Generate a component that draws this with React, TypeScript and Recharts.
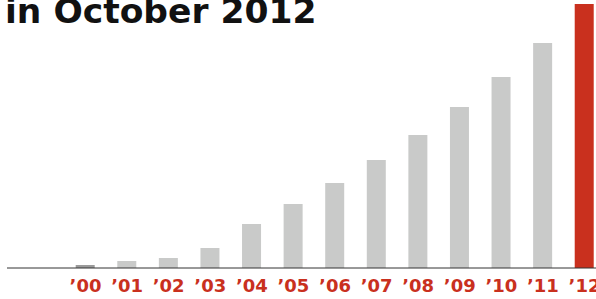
import React from 'react'
import { BarChart, Bar, XAxis, YAxis, Cell } from 'recharts'

const years = ['’00', '’01', '’02', '’03', '’04', '’05', '’06', '’07', '’08', '’09', '’10', '’11', '’12']
const values = [3, 7, 10, 20, 44, 64, 85, 108, 133, 161, 191, 225, 264]

const GRAY = '#c9cac9'
const FIRST = '#9a9a9a'
const RED = '#c9301e'

const data = years.map((year, i) => ({ year, value: values[i] }))

export default function App() {
  return (
    <div
      style={{
        position: 'absolute',
        left: 0,
        top: 0,
        width: 596,
        height: 299,
        overflow: 'hidden',
        background: '#fff',
      }}
    >
      <div
        style={{
          position: 'absolute',
          left: 5,
          top: -9,
          fontFamily: '"DejaVu Sans", sans-serif',
          fontWeight: 'bold',
          fontSize: 34.5,
          color: '#111',
          whiteSpace: 'nowrap',
          lineHeight: '40px',
        }}
      >
        in October 2012
      </div>
      <BarChart
        width={620}
        height={299}
        data={data}
        margin={{ top: 4, right: 0, bottom: 0, left: 7 }}
      >
        <YAxis hide domain={[0, 264]} />
        <XAxis
          dataKey="year"
          height={31}
          tickLine={false}
          tickMargin={5}
          interval={0}
          padding={{ left: 57.7, right: 14.7 }}
          axisLine={{ stroke: '#333', strokeWidth: 1 }}
          tick={{
            fill: RED,
            fontSize: 18,
            fontWeight: 'bold',
            fontFamily: '"DejaVu Sans", sans-serif',
          }}
        />
        <Bar dataKey="value" barSize={19} isAnimationActive={false}>
          {data.map((d, i) => (
            <Cell key={d.year} fill={i === 0 ? FIRST : i === data.length - 1 ? RED : GRAY} />
          ))}
        </Bar>
      </BarChart>
    </div>
  )
}
